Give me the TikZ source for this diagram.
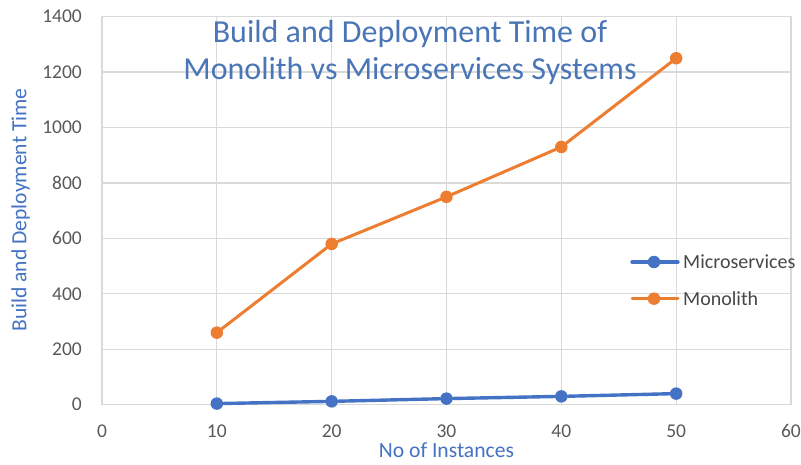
\documentclass[tikz,border=0pt]{standalone}
\usepackage{fontspec}
\setmainfont{Carlito}
\usepackage{tikz}
\usepackage{xcolor}
\definecolor{microblue}{HTML}{4472C4}
\definecolor{monoorange}{HTML}{ED7D31}
\definecolor{ticktext}{HTML}{595959}
\definecolor{gridgray}{HTML}{D9D9D9}
\definecolor{titleblue}{HTML}{4A76B8}

\begin{document}
\begin{tikzpicture}[x=1pt,y=1pt,line cap=round,line join=round,
  gridline/.style={gridgray,line width=1.3pt},
  ticklab/.style={text=ticktext,inner sep=0pt,font=\fontsize{19.5}{22}\selectfont},
  axtitle/.style={text=microblue,inner sep=0pt,font=\fontsize{21.6}{24}\selectfont},
  charttitle/.style={text=titleblue,inner sep=0pt,anchor=base,font=\fontsize{32}{36}\selectfont},
  legtext/.style={text=ticktext!80!black,inner sep=0pt,anchor=west,font=\fontsize{20}{22}\selectfont},
  micro/.style={microblue,line width=3.4pt},
  mono/.style={monoorange,line width=3pt},
  dotmicro/.style={circle,fill=microblue,inner sep=0pt,minimum size=12.5pt},
  dotmono/.style={circle,fill=monoorange,inner sep=0pt,minimum size=12.5pt}]
\useasboundingbox[fill=white] (0,0) rectangle (801,464);

\begin{scope}[shift={(102,59.3)},x=11.483pt,y=0.27714pt]
% grid
\foreach \gx in {0,10,...,60} \draw[gridline] (\gx,0) -- (\gx,1400);
\foreach \gy in {0,200,...,1400} \draw[gridline] (0,\gy) -- (60,\gy);
% tick labels
\foreach \gx in {0,10,...,60} \node[ticklab,yshift=-26.3pt] (xt\gx) at (\gx,0) {\gx};
\foreach \gy in {0,200,...,1400} \node[ticklab,anchor=east,xshift=-20pt] (yt\gy) at (0,\gy) {\gy};
% series
\foreach \v [count=\i] in {260,580,750,930,1250} \node[dotmono] (mo\i) at (10*\i,\v) {};
\foreach \v [count=\i] in {4,12,22,30,40} \node[dotmicro] (mi\i) at (10*\i,\v) {};
\draw[mono] (mo1) -- (mo2) -- (mo3) -- (mo4) -- (mo5);
\draw[micro] (mi1) -- (mi2) -- (mi3) -- (mi4) -- (mi5);
% axis titles
\node[axtitle,anchor=base] (xtitle) at (30,-191.5) {No of Instances};
\end{scope}

\node[axtitle,rotate=90] (ytitle) at (20.5,254) {Build and Deployment Time};

% title
\node[charttitle] (title1) at (410,421) {Build and Deployment Time of};
\node[charttitle] (title2) at (410,384.5) {Monolith vs Microservices Systems};

% legend
\coordinate (lgmiA) at (632,202);
\coordinate (lgmiB) at (678,202);
\coordinate (lgmoA) at (632,165.3);
\coordinate (lgmoB) at (678,165.3);
\draw[micro] (lgmiA) -- (lgmiB);
\draw[mono] (lgmoA) -- (lgmoB);
\node[dotmicro] (lgmidot) at (654,202) {};
\node[dotmono] (lgmodot) at (654,165.3) {};
\node[legtext] (lgmitext) at (683,202) {Microservices};
\node[legtext] (lgmotext) at (683,165.3) {Monolith};
\end{tikzpicture}
\end{document}
